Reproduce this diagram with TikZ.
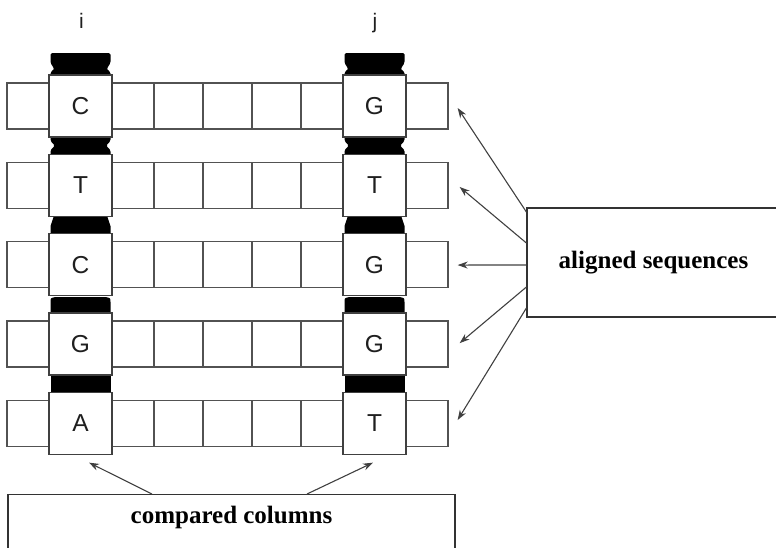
\documentclass[tikz,border=0pt]{standalone}
\usepackage{fontspec}
\setmainfont{Liberation Serif}
\newfontfamily\hv{Liberation Sans}
\usetikzlibrary{arrows.meta}
\begin{document}
\begin{tikzpicture}[x=1pt,y=-1pt,
  cellbox/.style={draw=black!68,line width=1.3pt,minimum width=49pt,minimum height=46pt,inner sep=0pt,fill=white},
  bigbox/.style={draw=black!75,line width=1.3pt,minimum width=63pt,minimum height=62pt,inner sep=0pt,fill=white,text=black!88,font=\hv\fontsize{24.5}{25}\selectfont},
  colhead/.style={anchor=base,text=black!88,font=\hv\fontsize{21}{22}\selectfont},
  labelbox/.style={draw=black!80,line width=1.2pt,fill=white,inner sep=0pt},
  boldlbl/.style={anchor=base,font=\bfseries\fontsize{25}{26}\selectfont},
  arr/.style={draw=black!75,line width=1.1pt,-{Stealth[length=10pt,width=7pt]}},
  blob/.style={fill=black,rounded corners=1.5pt}]

\useasboundingbox (0,0) rectangle (776,547);

% column headings
\node[colhead] (hi) at (81.5,28) {i};
\node[colhead] (hj) at (375,28) {j};

% rows of cells
\foreach \k/\y in {1/106,2/185.375,3/264.75,4/344.125,5/423.5}{
  \foreach \m in {1,...,9}{
    \node[cellbox] (c\k-\m) at ({31.5+49*(\m-1)},\y) {};
  }
}

% black joints between the column boxes
\foreach \c in {80.5,374.5}{
  % above row 1
  \fill[blob] ({\c-30},78) -- ({\c-30},72) .. controls ({\c-26},69) .. ({\c-30},63) -- ({\c-30},53)
     -- ({\c+30},53) -- ({\c+30},63) .. controls ({\c+26},69) .. ({\c+30},72) -- ({\c+30},78) -- cycle;
  % rows 1-2
  \fill[blob] ({\c-30},135) -- ({\c-30},141) -- ({\c-25.5},145.5) -- ({\c-30},150) -- ({\c-30},157)
     -- ({\c+30},157) -- ({\c+30},150) -- ({\c+25.5},145.5) -- ({\c+30},141) -- ({\c+30},135) -- cycle;
  % rows 2-3
  \fill[black] ({\c-27},214) -- ({\c-27},217) .. controls ({\c-28},222) .. ({\c-30},226) -- ({\c-30},236)
     -- ({\c+30},236) -- ({\c+30},226) .. controls ({\c+28},222) .. ({\c+27},217) -- ({\c+27},214) -- cycle;
  % rows 3-4
  \fill[black] ({\c-30},316) -- ({\c-30},302) .. controls ({\c-30},298) .. ({\c-25},297) -- ({\c+25},297)
     .. controls ({\c+30},298) .. ({\c+30},302) -- ({\c+30},316) -- cycle;
  % rows 4-5
  \fill[black] ({\c-30},374) rectangle ({\c+30},395);
}

% compared column boxes
\foreach \k/\y/\a/\b in {1/106/C/G,2/185.375/T/T,3/264.75/C/G,4/344.125/G/G,5/423.5/A/T}{
  \node[bigbox] (i\k) at (80.5,\y) {\a};
  \node[bigbox] (j\k) at (374.5,\y) {\b};
}

% aligned sequences box
\node[labelbox,minimum width=253pt,minimum height=109pt,boldlbl,anchor=center] (aligned) at (653.5,262.5) {aligned sequences};

\draw[arr] ([shift={(0,-50.5)}]aligned.west) -- ([shift={(9,2)}]c1-9.east);
\draw[arr] ([shift={(0,-19.5)}]aligned.west) -- ([shift={(11,1.6)}]c2-9.east);
\draw[arr] ([shift={(0,2.5)}]aligned.west) -- ([shift={(9,0.3)}]c3-9.east);
\draw[arr] ([shift={(0,24.5)}]aligned.west) -- ([shift={(11,-1)}]c4-9.east);
\draw[arr] ([shift={(0,45.5)}]aligned.west) -- ([shift={(9,-3.5)}]c5-9.east);

% compared columns box
\node[labelbox,minimum width=447pt,minimum height=60pt,anchor=north] (compared) at (231.5,494) {};
\node[boldlbl] (comptext) at (231.5,523) {compared columns};

\draw[arr] ([shift={(-79.5,0)}]compared.north) -- ([shift={(8.5,7.5)}]i5.south);
\draw[arr] ([shift={(75.5,0)}]compared.north) -- ([shift={(-1.5,7.5)}]j5.south);

\end{tikzpicture}
\end{document}
